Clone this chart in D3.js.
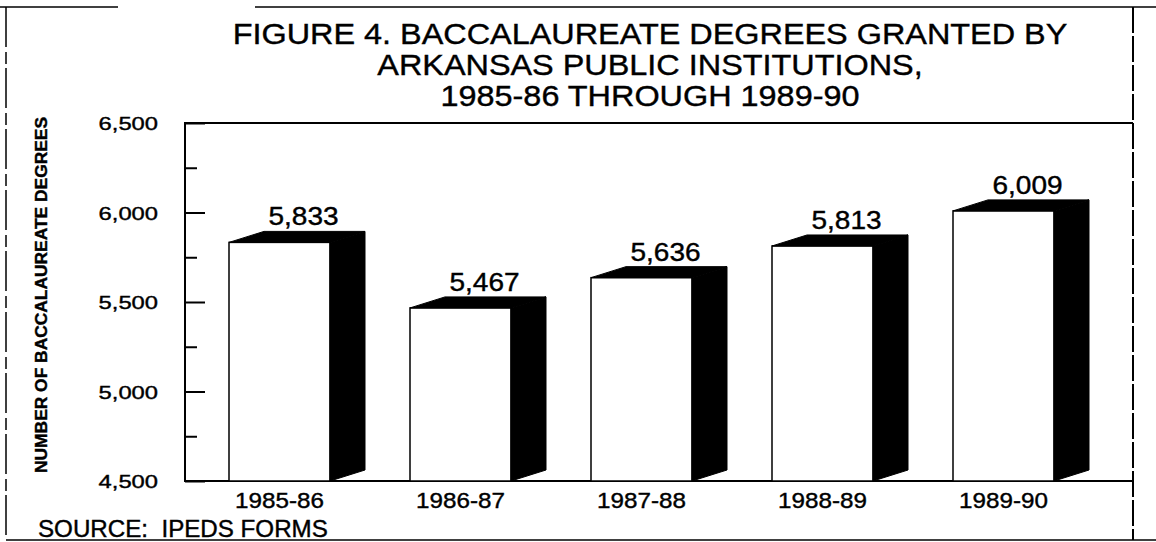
<!DOCTYPE html>
<html><head><meta charset="utf-8">
<script src="https://cdn.jsdelivr.net/npm/d3@7"></script>
<style>
body{margin:0;background:#fff}
svg{display:block}
text{font-family:"Liberation Sans",Arial,Helvetica,sans-serif;fill:#000;stroke:#000;stroke-width:0.4}
</style>
</head><body>
<svg id="c" width="1156" height="542"></svg>
<script>
// ---- data ----
const categories = ["1985-86", "1986-87", "1987-88", "1988-89", "1989-90"];
const values = [5833, 5467, 5636, 5813, 6009];
const valueLabels = ["5,833", "5,467", "5,636", "5,813", "6,009"];
const majorTicks = [4500, 5000, 5500, 6000, 6500];
const minorTicks = [4750, 5250, 5750, 6250];
const titleLines = ["FIGURE 4. BACCALAUREATE DEGREES GRANTED BY", "ARKANSAS PUBLIC INSTITUTIONS,", "1985-86 THROUGH 1989-90"];
const yAxisTitle = "NUMBER OF BACCALAUREATE DEGREES";
const sourceNote = "SOURCE:  IPEDS FORMS";

// ---- layout ----
const svg = d3.select("#c");
const plot = {left: 185, right: 1133, top: 123, bottom: 481};
const x = d3.scalePoint().domain(categories).range([189, 1094]).padding(0.5);
const y = d3.scaleLinear().domain([4500, 6500]).range([plot.bottom, plot.top]);
const barW = 101, dx = 35, dy = 11;
const fmt = d3.format(",");

// outer border
const ob = svg.append("g").attr("fill", "none").attr("stroke", "#000").attr("stroke-width", 1.5);
ob.append("line").attr("x1", 0).attr("x2", 118).attr("y1", 7).attr("y2", 7);
ob.append("line").attr("x1", 255).attr("x2", 1156).attr("y1", 7).attr("y2", 7);
ob.append("line").attr("x1", 6).attr("x2", 6).attr("y1", 7).attr("y2", 540).attr("stroke-dasharray", "40,5,12,4");
ob.append("line").attr("x1", 6).attr("x2", 1156).attr("y1", 540).attr("y2", 540);

// title
svg.append("g").selectAll("text").data(titleLines).join("text")
  .attr("transform", (d, i) => `translate(650,${44 + i * 31}) scale(1.08,1)`)
  .attr("text-anchor", "middle").attr("font-size", 30)
  .text(d => d);

// plot frame
const pf = svg.append("g").attr("fill", "none").attr("stroke", "#000").attr("stroke-width", 2);
pf.append("path").attr("d", `M${plot.right},${plot.top}H${plot.left}V${plot.bottom}H${plot.right}`);
pf.append("line").attr("x1", plot.right).attr("x2", plot.right).attr("y1", 7).attr("y2", 540)
  .attr("stroke-dasharray", "26,3");

// y axis ticks (inward)
const yAxis = d3.axisRight(y).tickValues(majorTicks).tickSize(20).tickFormat("");
svg.append("g").attr("transform", `translate(${plot.left},0)`).call(yAxis)
  .call(g => g.select(".domain").remove())
  .call(g => g.selectAll("line").attr("stroke-width", 2));
const yMinor = d3.axisRight(y).tickValues(minorTicks).tickSize(12).tickFormat("");
svg.append("g").attr("transform", `translate(${plot.left},0)`).call(yMinor)
  .call(g => g.select(".domain").remove())
  .call(g => g.selectAll("line").attr("stroke-width", 2));
// y tick labels
svg.append("g").selectAll("text").data(majorTicks).join("text")
  .attr("transform", d => `translate(158,${y(d) + 7}) scale(1.25,1)`)
  .attr("text-anchor", "end").attr("font-size", 19)
  .text(d => fmt(d));

// y axis title
svg.append("text")
  .attr("transform", "translate(47,295) rotate(-90)")
  .attr("text-anchor", "middle").attr("font-size", 16).attr("font-weight", "bold")
  .attr("textLength", 356).attr("lengthAdjust", "spacingAndGlyphs")
  .text(yAxisTitle);

// x axis ticks (inward, small)
const xAxis = d3.axisTop(x).tickSize(6).tickFormat("");
svg.append("g").attr("transform", `translate(0,${plot.bottom})`).call(xAxis)
  .call(g => g.select(".domain").remove())
  .call(g => g.selectAll("line").attr("stroke-width", 2));
// x labels
svg.append("g").selectAll("text").data(categories).join("text")
  .attr("transform", d => `translate(${x(d)},508) scale(1.1,1)`)
  .attr("text-anchor", "middle").attr("font-size", 22)
  .text(d => d);

// bars
const bars = svg.append("g").selectAll("g").data(categories).join("g");
bars.append("rect")
  .attr("x", d => x(d) - barW / 2)
  .attr("y", (d, i) => y(values[i]))
  .attr("width", barW)
  .attr("height", (d, i) => plot.bottom - y(values[i]))
  .attr("fill", "#fff").attr("stroke", "#000").attr("stroke-width", 1.5);
// top face
bars.append("path").attr("fill", "#000").attr("stroke", "#000").attr("stroke-width", 1)
  .attr("d", (d, i) => {
    const l = x(d) - barW / 2, r = x(d) + barW / 2, t = y(values[i]);
    return `M${l},${t}L${l + dx},${t - dy}L${r + dx},${t - dy}L${r},${t}Z`;
  });
// side face
bars.append("path").attr("fill", "#000").attr("stroke", "#000").attr("stroke-width", 1)
  .attr("d", (d, i) => {
    const r = x(d) + barW / 2, t = y(values[i]), b = plot.bottom;
    return `M${r},${t}L${r + dx},${t - dy}L${r + dx},${b - dy}L${r},${b}Z`;
  });
// value labels
bars.append("text")
  .attr("transform", (d, i) => `translate(${x(d) + 24},${y(values[i]) - dy - 6}) scale(1.12,1)`)
  .attr("text-anchor", "middle").attr("font-size", 25)
  .text((d, i) => valueLabels[i]);

// source
svg.append("text").attr("transform", "translate(38,537) scale(1.05,1)").attr("font-size", 23)
  .style("white-space", "pre").text(sourceNote);
</script>
</body></html>
